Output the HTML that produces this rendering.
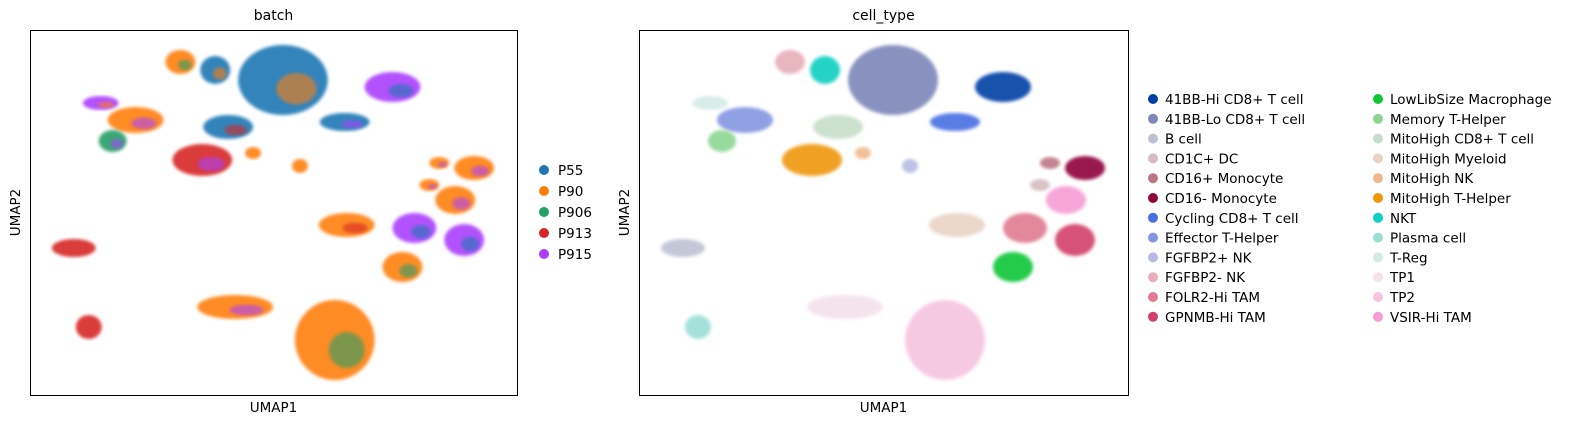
<!DOCTYPE html>
<html><head><meta charset="utf-8">
<style>
body{margin:0;background:#fff;}
svg{display:block;font-family:"DejaVu Sans","Liberation Sans",sans-serif;}
</style></head>
<body>
<svg id="chart" width="1582" height="429" viewBox="0 0 1582 429"></svg>
<script>
// cluster data in UMAP units (x domain 0..489, y domain 0..365)
const cellTypes = ["41BB-Lo CD8+ T cell","41BB-Hi CD8+ T cell","FGFBP2- NK","NKT","T-Reg","Effector T-Helper","Memory T-Helper","MitoHigh CD8+ T cell","Cycling CD8+ T cell","MitoHigh T-Helper","MitoHigh NK","FGFBP2+ NK","CD16+ Monocyte","CD16- Monocyte","CD1C+ DC","VSIR-Hi TAM","MitoHigh Myeloid","FOLR2-Hi TAM","GPNMB-Hi TAM","LowLibSize Macrophage","B cell","TP1","TP2","Plasma cell"];
const centerX = [254,364,151,186,71,106,83,199,316,173,224,271,411,446,401,427,318,386,436,374,44,206,306,59];
const centerY = [315,308,333,325,292,275,254,268,273,235,242,229,232,227,210,195,170,167,155,128,147,88,55,68];
const spreadX = [45,28,15,15,18,28,14,25,25,30,8,8,10,20,10,20,28,22,20,20,22,38,40,13];
const spreadY = [35,15,12,14,7,13,11,12,9,16,6,7,6,12,6,14,12,15,16,15,9,12,40,12];
const mainBatch = ["P55","P915","P90","P55","P915","P90","P906","P55","P55","P913","P90","P90","P90","P90","P90","P90","P90","P915","P915","P90","P913","P90","P90","P913"];
const secondBatch = ["P90","P55","P906","P90","P90","P915","P915","P913","P915","P915","P90","P90","P915","P915","P915","P915","P913","P55","P55","P906","P913","P915","P906","P913"];
const batches = ["P55","P90","P906","P913","P915"];
const batchColors = ["#1f77b4","#ff7f0e","#279e68","#d62728","#aa40fc"];
const legendTypes = ["41BB-Hi CD8+ T cell","41BB-Lo CD8+ T cell","B cell","CD1C+ DC","CD16+ Monocyte","CD16- Monocyte","Cycling CD8+ T cell","Effector T-Helper","FGFBP2+ NK","FGFBP2- NK","FOLR2-Hi TAM","GPNMB-Hi TAM","LowLibSize Macrophage","Memory T-Helper","MitoHigh CD8+ T cell","MitoHigh Myeloid","MitoHigh NK","MitoHigh T-Helper","NKT","Plasma cell","T-Reg","TP1","TP2","VSIR-Hi TAM"];
const typeColors = ["#023fa5","#7d87b9","#bec1d4","#d6bcc0","#bb7784","#8e063b","#4a6fe3","#8595e1","#b5bbe3","#e6afb9","#e07b91","#d33f6a","#11c638","#8dd593","#c6dec7","#ead3c6","#f0b98d","#ef9708","#0fcfc0","#9cded6","#d5eae7","#f3e1eb","#f6c4e1","#f79cd4"];

const NS="http://www.w3.org/2000/svg";
const svg=document.getElementById('chart');
function mk(tag,attrs,parent){const e=document.createElementNS(NS,tag);for(const k in attrs)e.setAttribute(k,attrs[k]);(parent||svg).appendChild(e);return e;}
const panels=[{x0:30,w:487,title:"batch",name:"batch-panel"},{x0:639,w:489,title:"cell_type",name:"cell-type-panel"}];
const y0=30,h=365;
function sx(p,v){return p.x0+v*(p.w/489);}
function sy(v){return y0+h-v;}

mk('filter',{id:'soft'}).appendChild(document.createElementNS(NS,'feGaussianBlur')).setAttribute('stdDeviation','1.5');

panels.forEach((p,pi)=>{
  const g=mk('g',{});
  
  
  for(let i=0;i<cellTypes.length;i++){
    let col, col2;
    if(pi===0){col=batchColors[batches.indexOf(mainBatch[i])];col2=batchColors[batches.indexOf(secondBatch[i])];}
    else{col=typeColors[legendTypes.indexOf(cellTypes[i])];col2=col;}
    const e=mk('ellipse',{cx:sx(p,centerX[i]),cy:sy(centerY[i]),rx:spreadX[i]*p.w/489,ry:spreadY[i],fill:col,opacity:0.9,filter:'url(#soft)'},g);
    
    
    if(pi===0 && col2!==col){
      const e2=mk('ellipse',{cx:sx(p,centerX[i]+spreadX[i]*0.3),cy:sy(centerY[i]-spreadY[i]*0.25),rx:spreadX[i]*0.45*p.w/489,ry:spreadY[i]*0.45,fill:col2,opacity:0.6,filter:'url(#soft)'},g);
      
      
    }
  }
  const fr=mk('rect',{x:p.x0+0.5,y:y0+0.5,width:p.w,height:h,fill:'none',stroke:'#000','stroke-width':1});
  
  
  const t=mk('text',{x:p.x0+p.w/2,y:20,'text-anchor':'middle','font-size':14});t.textContent=p.title;
  
  const xl=mk('text',{x:p.x0+p.w/2,y:412,'text-anchor':'middle','font-size':13.5});xl.textContent="UMAP1";
  
  const yl=mk('text',{x:0,y:0,'text-anchor':'middle','font-size':13.5,transform:`translate(${p.x0-10},${y0+h/2}) rotate(-90)`});yl.textContent="UMAP2";
  
});

// batch legend
batches.forEach((b,i)=>{
  const y=170+i*21;
  const c=mk('circle',{cx:544,cy:y,r:5,fill:batchColors[i]});
  
  const t=mk('text',{x:558,y:y+5,'font-size':13.5});t.textContent=b;
  
});
// cell type legend
legendTypes.forEach((n,i)=>{
  const col=Math.floor(i/12),row=i%12;
  const x=1153+col*225,y=99+row*19.8;
  const c=mk('circle',{cx:x,cy:y,r:5,fill:typeColors[i]});
  
  const t=mk('text',{x:x+12,y:y+5,'font-size':13.5});t.textContent=n;
  
});
</script>
</body></html>
